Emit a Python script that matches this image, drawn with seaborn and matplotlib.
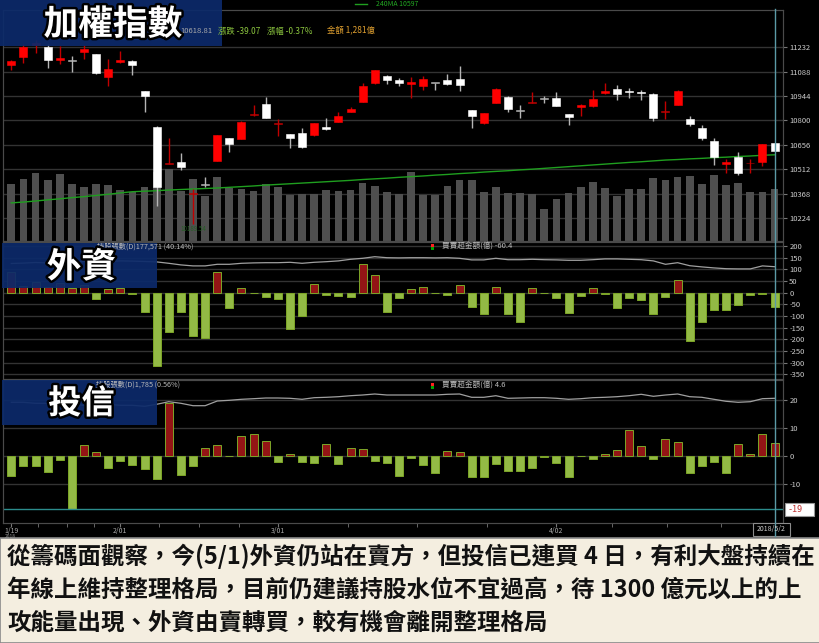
import matplotlib
matplotlib.use("Agg")
import matplotlib.pyplot as plt
import matplotlib.patheffects as pe
import matplotlib.transforms as mtrans
from matplotlib.patches import Rectangle
from matplotlib.lines import Line2D
import numpy as np
import pandas as pd
import seaborn as sns

# ---- data (TAIEX daily, 2018/1/19 - 2018/5/2) ----
opens = [11128, 11173, 11248, 11232, 11159, 11155, 11206, 11193, 11058, 11143,
         11153, 10972, 10763, 10544, 10557, 10368, 10425, 10561, 10696, 10690,
         10830, 10897, 10781, 10720, 10728, 10712, 10763, 10793, 10850, 10909,
         11023, 11064, 11039, 11013, 11005, 11021, 11039, 11047, 10862, 10783,
         10903, 10940, 10858, 10905, 10928, 10934, 10838, 10881, 10887, 10962,
         10984, 10976, 10970, 10955, 10848, 10891, 10807, 10755, 10679, 10543,
         10582, 10546, 10553, 10665]
highs = [11158, 11250, 11275, 11250, 11240, 11181, 11246, 11195, 11161, 11210,
         11155, 10974, 10765, 10694, 10610, 10394, 10468, 10714, 10698, 10795,
         10890, 10937, 10807, 10722, 10754, 10785, 10816, 10852, 10881, 11019,
         11100, 11066, 11052, 11058, 11064, 11022, 11074, 11123, 10864, 10844,
         10989, 10942, 10890, 10970, 10946, 10970, 10840, 10895, 10978, 11019,
         11009, 10990, 10980, 10964, 10917, 10980, 10828, 10773, 10695, 10571,
         10614, 10571, 10660, 10667]
lows = [11098, 11142, 11200, 11108, 11132, 11088, 11161, 11077, 11005, 11141,
        11068, 10852, 10297, 10543, 10508, 10189.54, 10409, 10559, 10616, 10688,
        10829, 10812, 10708, 10636, 10640, 10710, 10746, 10791, 10848, 10907,
        11013, 11013, 11005, 10934, 10980, 10980, 11012, 10974, 10757, 10781,
        10901, 10852, 10813, 10904, 10905, 10885, 10773, 10828, 10877, 10955,
        10921, 10934, 10921, 10798, 10807, 10889, 10767, 10685, 10537, 10488,
        10476, 10492, 10531, 10617]
closes = [11153, 11236, 11256, 11155, 11167, 11152, 11222, 11079, 11104, 11159,
          11127, 10946, 10404, 10547, 10527, 10371, 10421, 10712, 10663, 10793,
          10832, 10815, 10784, 10698, 10642, 10783, 10748, 10826, 10866, 11003,
          11098, 11039, 11019, 11029, 11045, 11019, 11013, 11009, 10826, 10842,
          10988, 10866, 10856, 10907, 10926, 10887, 10822, 10893, 10927, 10972,
          10958, 10968, 10960, 10813, 10850, 10974, 10781, 10698, 10582, 10556,
          10488, 10549, 10658, 10618.81]
# turnover, 億
volume = [1387, 1517, 1656, 1485, 1639, 1404, 1330, 1404, 1379, 1239,
          1198, 1313, 1681, 1772, 1222, 1526, 1109, 1558, 1296, 1281,
          1222, 1399, 1320, 1134, 1141, 1141, 1239, 1222, 1256, 1411,
          1355, 1207, 1141, 1681, 1134, 1134, 1337, 1502, 1502, 1207,
          1330, 1183, 1183, 1158, 773, 1036, 1173, 1320, 1443, 1306,
          1109, 1264, 1281, 1541, 1492, 1566, 1583, 1387, 1615, 1369,
          1418, 1207, 1190, 1281]
ma240 = [10313, 10318, 10324, 10331, 10337, 10344, 10350, 10357, 10364, 10372,
         10379, 10382, 10385, 10389, 10392, 10395, 10398, 10401, 10405, 10409,
         10413, 10418, 10422, 10426, 10430, 10434, 10438, 10442, 10446, 10451,
         10455, 10459, 10464, 10468, 10472, 10477, 10481, 10486, 10490, 10495,
         10499, 10503, 10508, 10512, 10517, 10522, 10527, 10532, 10537, 10542,
         10547, 10552, 10556, 10561, 10566, 10569, 10573, 10576, 10580, 10583,
         10587, 10590, 10594, 10597]
# 外資 買賣超 (億)
foreign = [90, 30, 47, 25, 40, 20, 35, -27, 15, 20,
           -7, -84, -312, -167, -84, -187, -193, 90, -67, 21,
           0.5, -18, -28, -155, -100, 36, -8, -12, -20, 122,
           76, -81, -21, 16, 23, 0.5, -8, 33, -61, -92,
           26, -92, -124, 19, 0.5, -21, -87, -14, 19, -6,
           -65, -21, -30, -91, -20, 56, -207, -124, -75, -74,
           -54, -9, -4, -60.4]
# 外資 持股比例 (%)
foreign_hold = [40.30, 40.32, 40.35, 40.33, 40.36, 40.38, 40.40, 40.39, 40.41, 40.43,
                40.42, 40.40, 40.38, 40.31, 40.23, 40.18, 40.18, 40.26, 40.26, 40.31,
                40.33, 40.34, 40.34, 40.36, 40.31, 40.36, 40.39, 40.43, 40.51, 40.56,
                40.64, 40.59, 40.58, 40.59, 40.59, 40.58, 40.59, 40.56, 40.48, 40.48,
                40.56, 40.49, 40.49, 40.51, 40.49, 40.48, 40.46, 40.46, 40.49, 40.53,
                40.53, 40.51, 40.49, 40.43, 40.26, 40.34, 40.19, 40.13, 40.08, 40.04,
                40.03, 40.03, 40.18, 40.14]
# 投信 買賣超 (億)
trust = [-7.0, -3.6, -3.4, -5.6, -1.4, -19.0, 4.0, 1.3, -4.2, -1.8,
         -3.1, -4.5, -8.3, 18.8, -6.8, -3.6, 3.0, 4.0, 0.1, 7.0,
         7.9, 5.4, -2.3, 0.7, -2.0, -2.4, 4.3, -3.0, 2.9, 2.6,
         -1.8, -2.4, -7.0, -0.6, -3.3, -6.2, 1.9, 1.3, -7.6, -7.6,
         -3.0, -5.2, -5.2, -4.4, -0.4, -2.6, -7.6, -0.1, -1.0, 0.6,
         2.0, 9.2, 3.6, -1.2, 6.1, 4.9, -6.2, -3.6, -2.3, -6.0,
         4.2, 0.7, 7.8, 4.6]
# 投信 持股比例 (%)
trust_hold = [0.52, 0.52, 0.51, 0.51, 0.50, 0.50, 0.49, 0.50, 0.50, 0.49,
              0.49, 0.48, 0.50, 0.526, 0.51, 0.486, 0.486, 0.533, 0.54, 0.55,
              0.556, 0.563, 0.563, 0.56, 0.55, 0.566, 0.57, 0.576, 0.586, 0.593,
              0.603, 0.593, 0.593, 0.593, 0.593, 0.593, 0.60, 0.603, 0.57, 0.57,
              0.586, 0.56, 0.563, 0.566, 0.566, 0.56, 0.55, 0.556, 0.566, 0.57,
              0.576, 0.586, 0.60, 0.58, 0.593, 0.603, 0.576, 0.57, 0.55, 0.53,
              0.52, 0.526, 0.556, 0.56]
date_pos = [0, 9, 22, 45]
date_labels = ['1/19', '2/01', '3/01', '4/02']
last_date = '2018/5/2'
price_ticks = [11232, 11088, 10944, 10800, 10656, 10512, 10368, 10224]
foreign_ticks = list(range(-350, 201, 50))
trust_ticks = [20, 10, 0, -10]

caption = ["從籌碼面觀察，今(5/1)外資仍站在賣方，但投信已連買 4 日，有利大盤持續在",
           "年線上維持整理格局，目前仍建議持股水位不宜過高，待 1300 億元以上的上",
           "攻能量出現、外資由賣轉買，較有機會離開整理格局"]

plt.rcParams['font.family'] = ['Noto Sans CJK TC', 'DejaVu Sans']
plt.rcParams['axes.unicode_minus'] = False

df = pd.DataFrame({'open': opens, 'high': highs, 'low': lows, 'close': closes,
                   'volume': volume, 'ma240': ma240, 'foreign': foreign,
                   'f_hold': foreign_hold, 'trust': trust, 't_hold': trust_hold})
df['idx'] = np.arange(len(df))
df['f_side'] = np.where(df['foreign'] >= 0, 'buy', 'sell')
df['t_side'] = np.where(df['trust'] >= 0, 'buy', 'sell')

W, H = 820, 643
fig = plt.figure(figsize=(W / 100, H / 100), dpi=100, facecolor='black')


def box(x0, y0, x1, y1):
    return [x0 / W, 1 - y1 / H, (x1 - x0) / W, (y1 - y0) / H]


XLIM = (-0.685, 63.7)
GRID = '#333333'
SPINE = '#4a4a4a'
LAB = '#cccccc'
RED_BAR, GREEN_BAR = '#a80000', '#9acd32'
side_pal = {'buy': RED_BAR, 'sell': GREEN_BAR}


def style(ax):
    ax.set_facecolor('black')
    for s in ax.spines.values():
        s.set_color(SPINE)
    ax.set_xlim(*XLIM)
    ax.set_xlabel('')
    ax.set_ylabel('')
    ax.tick_params(axis='x', bottom=False, labelbottom=False)


def right_ticks(ax, ticks):
    ax.yaxis.tick_right()
    ax.set_yticks(ticks)
    ax.set_yticklabels([str(t) for t in ticks])
    ax.tick_params(axis='y', labelcolor=LAB, color='#777777', labelsize=5.5,
                   length=3, pad=1.5)


def edge_bars(ax):
    for p in ax.patches:
        fc = matplotlib.colors.to_hex(p.get_facecolor())
        p.set_edgecolor('#dd2a2a' if fc == RED_BAR else '#7da628')
        p.set_linewidth(0.7)


# ---- 加權指數: volume + candles ----
ax_v = fig.add_axes(box(3, 10, 783, 241))
sns.barplot(df, x='idx', y='volume', native_scale=True, color='#4f4f4f',
            width=0.64, errorbar=None, linewidth=0, ax=ax_v)
ax_v.set_ylim(0, 5650)
ax_v.set_yticks([])
style(ax_v)

ax_p = ax_v.twinx()
ax_p.set_ylim(10088, 11452)
gtr = mtrans.blended_transform_factory(ax_v.transAxes, ax_p.transData)
ax_v.hlines(price_ticks, 0, 1, transform=gtr, color=GRID, lw=1, zorder=0)

sns.lineplot(df, x='idx', y='ma240', color='#1f9f1f', lw=1.0, ax=ax_p)
up = df['close'] >= df['open']
doji = (df['close'] - df['open']).abs() < 5
wick_c = np.where(up, '#c00000', '#b5b5b5')
body_c = np.where(doji, wick_c, np.where(up, '#ff0000', '#ffffff'))
ax_p.vlines(df['idx'], df['low'], df['high'], colors=wick_c, lw=1, zorder=3)
ax_p.bar(df['idx'], (df['close'] - df['open']).abs().clip(lower=5),
         bottom=df[['open', 'close']].min(axis=1), width=0.66,
         color=body_c, edgecolor=body_c, lw=0.4, zorder=4)
low_i = int(df['low'].idxmin())
ax_p.text(low_i, df['low'][low_i] - 8, f"{df['low'][low_i]:.2f}", color='#245f24',
          fontsize=4.5, ha='center', va='top')
style(ax_p)
ax_p.set_ylim(10088, 11452)
right_ticks(ax_p, price_ticks)

# ---- 外資 ----
ax_f = fig.add_axes(box(3, 242, 783, 379))
sns.barplot(df, x='idx', y='foreign', hue='f_side', palette=side_pal, dodge=False,
            native_scale=True, width=0.66, errorbar=None, legend=False, ax=ax_f)
edge_bars(ax_f)
ax_f.set_ylim(-369.4, 217)
ax_f.set_yticks(foreign_ticks)
ax_f.grid(axis='y', color=GRID, lw=1)
ax_f.set_axisbelow(True)
style(ax_f)
ax_fl = ax_f.twinx()
sns.lineplot(df, x='idx', y='f_hold', color='#a0a0a0', lw=0.9, ax=ax_fl)
ax_fl.set_ylim(34.525, 41.375)
ax_fl.set_yticks([])
style(ax_fl)
right_ticks(ax_f, foreign_ticks)

# ---- 投信 ----
ax_t = fig.add_axes(box(3, 380, 783, 523))
sns.barplot(df, x='idx', y='trust', hue='t_side', palette=side_pal, dodge=False,
            native_scale=True, width=0.66, errorbar=None, legend=False, ax=ax_t)
edge_bars(ax_t)
ax_t.set_ylim(-23.9, 27.1)
ax_t.set_yticks([20, 10, 0, -10, -20])
ax_t.grid(axis='y', color=GRID, lw=1)
ax_t.set_axisbelow(True)
tmin = df['trust'].min()
ax_t.axhline(tmin, color='#2b8c8c', lw=1, zorder=1)
style(ax_t)
ax_tl = ax_t.twinx()
sns.lineplot(df, x='idx', y='t_hold', color='#a0a0a0', lw=0.9, ax=ax_tl)
ax_tl.set_ylim(-0.687, 0.743)
ax_tl.set_yticks([])
style(ax_tl)
right_ticks(ax_t, trust_ticks)
ax_t.set_xticks(date_pos)
ax_t.set_xticklabels(date_labels)
ax_t.set_xticks([2.2, 4.6, 6.8, 12.2, 15.5, 18.8, 27.8, 33.5, 39.3, 49.6, 54.1, 58.6],
                minor=True)
ax_t.tick_params(axis='x', which='both', bottom=True, labelbottom=True, labelsize=5,
                 labelcolor='#aaaaaa', color='#777777', length=3, pad=0)
blend_t = mtrans.blended_transform_factory(ax_t.transAxes, ax_t.transData)
ax_t.text(1.005, tmin, f' {tmin:.0f}     ', transform=blend_t, ha='left', va='center',
          fontsize=6.5, color='#c03030', clip_on=False,
          bbox=dict(boxstyle='square,pad=0.25', fc='white', ec='#999999', lw=0.8))

# cursor line at the last bar
x_last = ax_t.transData.transform((df['idx'].iloc[-1], 0))[0] / fig.bbox.width
fig.add_artist(Line2D([x_last, x_last], [1 - 9 / H, 1 - 536 / H], color='#5b9aa6',
                      lw=1, transform=fig.transFigure))


def fx(x):
    return x / W


def fy(y):
    return 1 - y / H


# header texts
fig.add_artist(Line2D([fx(355), fx(367)], [fy(4), fy(4)], color='#1f9f1f', lw=1,
                      transform=fig.transFigure))
fig.text(fx(376), fy(4), f'240MA {ma240[-1]}', color='#22a822', fontsize=5,
         va='center')
fig.text(fx(213), fy(31), f'{closes[-1]:.2f}', color='#aaaaaa', fontsize=5.5,
         va='center', ha='right')
fig.text(fx(218), fy(31), '漲跌 -39.07', color='#8cc63f', fontsize=6, va='center')
fig.text(fx(267), fy(31), '漲幅 -0.37%', color='#8cc63f', fontsize=6, va='center')
fig.text(fx(327), fy(31), '金額 1,281億', color='#e0a030', fontsize=6, va='center')
fig.text(fx(193), fy(247), f'持股張數(D)177,571 ({foreign_hold[-1]:.2f}%)',
         color='#bbbbbb', fontsize=5.2, va='center', ha='right')
fig.text(fx(180), fy(384.5), f'持股張數(D)1,785 ({trust_hold[-1]:.2f}%)',
         color='#bbbbbb', fontsize=5.2, va='center', ha='right')
for yy, val in [(247, foreign[-1]), (385.5, trust[-1])]:
    fig.add_artist(Rectangle((fx(431.5), fy(yy + 3)), 3 / W, 3 / H, fc='#00a000',
                             ec='none', transform=fig.transFigure))
    fig.add_artist(Rectangle((fx(431.5), fy(yy)), 3 / W, 3 / H, fc='#ff2020',
                             ec='none', transform=fig.transFigure))
    fig.text(fx(442), fy(yy), f'買賣超金額(億) {val}', color='#bbbbbb', fontsize=5.5,
             va='center')

# date box of the last bar
fig.add_artist(Rectangle((fx(752.7), fy(535.5)), 37.5 / W, 12.5 / H, fc='black',
                         ec='#8c8c8c', lw=0.8, transform=fig.transFigure))
fig.text(fx(771), fy(529.5), last_date, color='#cccccc', fontsize=5, ha='center',
         va='center')
fig.text(fx(10), fy(536.5), '2018', color='#999999', fontsize=3.5, ha='center',
         va='center')

# title boxes
outline = [pe.withStroke(linewidth=3.5, foreground='black')]
for (x0, y0, x1, y1), title, size in [((0, 0, 222, 45.7), '加權指數', 25),
                                      ((2, 243, 157, 288), '外資', 25),
                                      ((2, 380, 157, 425), '投信', 24)]:
    fig.add_artist(Rectangle((fx(x0), fy(y1)), (x1 - x0) / W, (y1 - y0) / H,
                             fc='#0c2a6a', ec='none', alpha=0.93,
                             transform=fig.transFigure))
    fig.text(fx((x0 + x1) / 2 + 2), fy((y0 + y1) / 2 + 1.5), title, color='white',
             fontsize=size, fontweight='bold', ha='center', va='center',
             path_effects=outline)

# caption
fig.add_artist(Rectangle((0, 0), 1, (H - 538) / H, fc='#f4eee0', ec='#8a8a8a', lw=1.2,
                         transform=fig.transFigure))
for yy, line in zip([556, 590, 623], caption):
    fig.text(fx(7), fy(yy), line, color='#111111', fontsize=16.9, fontweight='bold',
             ha='left', va='center')

fig.savefig('out.png', dpi=100, facecolor='black')
